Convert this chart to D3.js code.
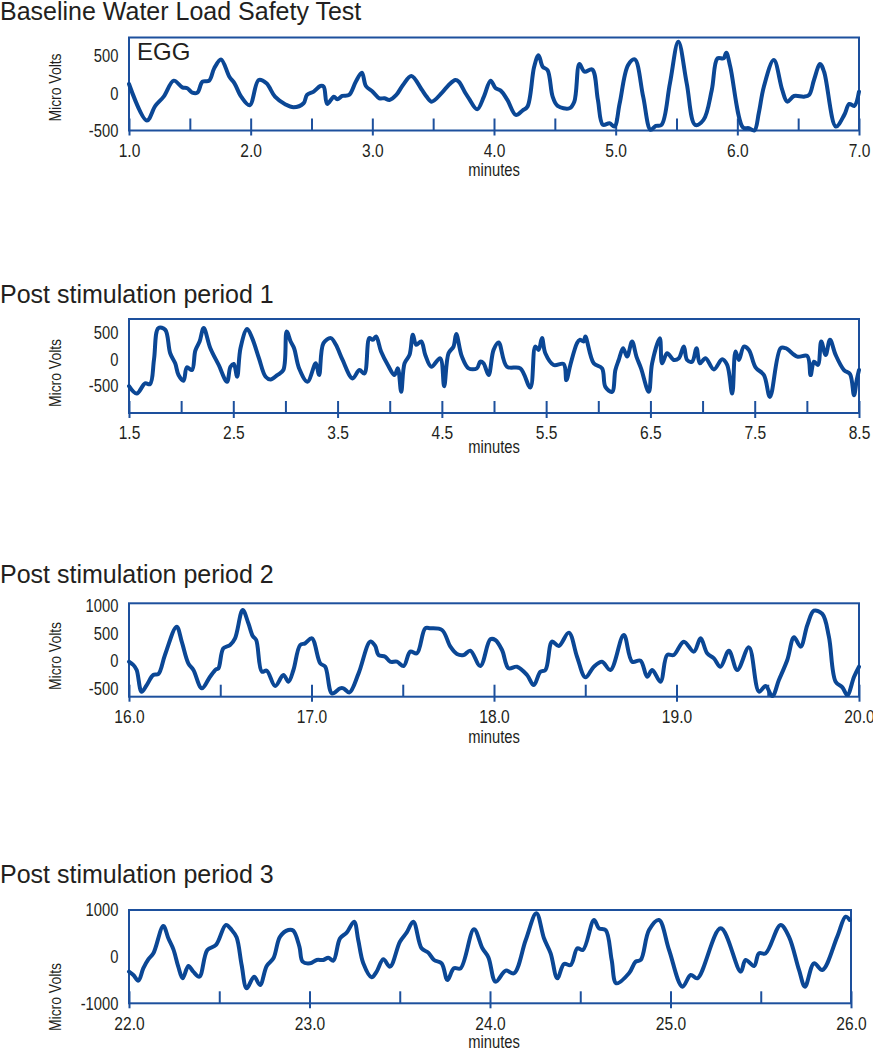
<!DOCTYPE html>
<html>
<head>
<meta charset="utf-8">
<script src="https://cdn.jsdelivr.net/npm/d3@7"></script>
<style>
  body { margin: 0; background: #fff; }
  svg { display: block; }
  text { font-family: "Liberation Sans", Arial, sans-serif; }
</style>
</head>
<body>
<svg id="chart" width="873" height="1050"></svg>
<script>
// titles of the four recordings
const titles = [
  "Baseline Water Load Safety Test",
  "Post stimulation period 1",
  "Post stimulation period 2",
  "Post stimulation period 3"
];

// EGG traces, [minutes, micro volts]
const baselineEgg = [
  [1.0,125],[1.147,-366],[1.216,-170],[1.285,-45],[1.368,170],[1.438,80],[1.479,67],[1.52,9],[1.562,9],
  [1.604,156],[1.659,170],[1.70,335],[1.756,455],[1.825,223],[1.867,134],[1.922,-45],[1.992,-160],[2.066,179],
  [2.13,134],[2.2,-45],[2.283,-147],[2.352,-188],[2.435,-134],[2.463,-22],[2.518,22],[2.573,98],[2.6,89],
  [2.629,-143],[2.684,-45],[2.712,-80],[2.753,-36],[2.809,-22],[2.864,156],[2.914,277],[2.947,98],[3.003,22],
  [3.058,-67],[3.1,-67],[3.141,-89],[3.197,-22],[3.252,112],[3.321,232],[3.404,54],[3.446,-45],[3.488,-112],
  [3.573,9],[3.628,112],[3.683,179],[3.711,156],[3.766,0],[3.793,-67],[3.862,-214],[3.917,-45],[3.972,170],
  [4.014,67],[4.055,36],[4.11,-89],[4.179,-290],[4.234,-232],[4.275,-179],[4.33,357],[4.366,513],[4.4,357],
  [4.44,312],[4.482,-45],[4.523,-170],[4.62,-201],[4.66,-112],[4.702,393],[4.744,290],[4.807,321],[4.854,-89],
  [4.895,-424],[4.95,-402],[4.99,-446],[5.033,-134],[5.102,379],[5.157,455],[5.226,-45],[5.287,-491],[5.33,-438],
  [5.377,-424],[5.446,134],[5.515,692],[5.584,134],[5.653,-424],[5.722,-357],[5.79,45],[5.837,469],[5.887,469],
  [5.909,545],[5.942,357],[6.047,-460],[6.094,-469],[6.14,-500],[6.176,-268],[6.218,89],[6.3,446],[6.369,45],
  [6.41,-112],[6.466,-36],[6.548,-45],[6.59,-22],[6.63,179],[6.68,393],[6.713,290],[6.81,-446],[6.879,-290],
  [6.92,-143],[6.961,-170],[7.0,22]
];

const post1Egg = [
  [1.5,-500],[1.574,-638],[1.654,-450],[1.702,-462],[1.74,0],[1.782,581],[1.847,550],[1.895,112],[1.943,-75],
  [1.975,-294],[2.023,-400],[2.055,-150],[2.104,-200],[2.136,162],[2.177,331],[2.216,581],[2.28,206],[2.36,-106],
  [2.44,-419],[2.473,-138],[2.505,-88],[2.537,-325],[2.569,206],[2.633,562],[2.681,394],[2.746,19],[2.81,-325],
  [2.858,-375],[2.922,-294],[2.98,-200],[3.012,519],[3.05,331],[3.083,206],[3.131,-169],[3.211,-419],[3.291,-75],
  [3.323,-294],[3.365,300],[3.436,394],[3.484,269],[3.548,-13],[3.644,-356],[3.709,-200],[3.757,-263],[3.805,394],
  [3.837,362],[3.869,425],[3.917,144],[3.982,-106],[4.046,-294],[4.078,-169],[4.11,-606],[4.142,-75],[4.19,81],
  [4.222,456],[4.254,269],[4.302,331],[4.341,81],[4.399,-138],[4.484,19],[4.522,-500],[4.564,112],[4.612,237],
  [4.638,469],[4.692,50],[4.756,-169],[4.836,-169],[4.868,-44],[4.9,-75],[4.948,-294],[4.996,175],[5.044,312],
  [5.124,-138],[5.252,-169],[5.348,-525],[5.396,237],[5.428,175],[5.46,394],[5.492,112],[5.572,-106],[5.668,-88],
  [5.694,-388],[5.732,-106],[5.796,300],[5.822,362],[5.86,331],[5.876,425],[5.956,-75],[6.036,-169],[6.068,-513],
  [6.132,-606],[6.164,-200],[6.196,-13],[6.238,206],[6.276,50],[6.324,331],[6.366,50],[6.41,-169],[6.484,-606],
  [6.516,-75],[6.59,394],[6.612,-75],[6.66,112],[6.724,-13],[6.772,19],[6.82,237],[6.852,-13],[6.9,-44],
  [6.942,206],[6.974,-75],[7.028,19],[7.108,-188],[7.188,0],[7.236,-106],[7.284,-638],[7.316,144],[7.348,-13],
  [7.396,237],[7.444,175],[7.508,-150],[7.588,-294],[7.646,-700],[7.748,206],[7.796,206],[7.908,50],[8.004,62],
  [8.036,-294],[8.068,-44],[8.106,-106],[8.138,331],[8.18,81],[8.222,362],[8.276,81],[8.356,-200],[8.414,-275],
  [8.452,-669],[8.478,-388],[8.5,-200]
];

const post2Egg = [
  [16.0,-13],[16.024,-73],[16.042,-164],[16.069,-559],[16.097,-438],[16.133,-255],[16.161,-237],[16.197,109],
  [16.261,625],[16.289,352],[16.325,-43],[16.353,-164],[16.399,-498],[16.444,-286],[16.477,-152],[16.49,-134],
  [16.517,230],[16.554,291],[16.581,412],[16.623,928],[16.654,686],[16.678,455],[16.697,382],[16.728,-195],
  [16.755,-177],[16.801,-456],[16.846,-255],[16.874,-377],[16.901,-164],[16.938,291],[16.965,321],[17.002,412],
  [17.048,-43],[17.075,-104],[17.112,-589],[17.157,-498],[17.175,-498],[17.208,-571],[17.258,-225],[17.322,352],
  [17.349,273],[17.367,109],[17.404,78],[17.431,-13],[17.468,-13],[17.505,-91],[17.541,170],[17.578,140],
  [17.623,595],[17.651,595],[17.715,564],[17.761,261],[17.797,127],[17.834,109],[17.87,188],[17.925,-91],
  [17.98,394],[18.007,382],[18.044,200],[18.08,-134],[18.126,-104],[18.181,-255],[18.218,-438],[18.254,-195],
  [18.282,-164],[18.318,352],[18.355,273],[18.41,516],[18.455,78],[18.501,-298],[18.547,-104],[18.592,-13],
  [18.638,-164],[18.711,473],[18.757,-13],[18.803,6],[18.839,-286],[18.867,-164],[18.912,-377],[18.949,109],
  [18.985,109],[19.04,352],[19.095,170],[19.132,412],[19.168,140],[19.205,48],[19.241,-104],[19.287,188],
  [19.333,-164],[19.397,248],[19.452,-559],[19.488,-456],[19.525,-638],[19.561,-347],[19.607,18],[19.644,431],
  [19.68,261],[19.717,655],[19.753,916],[19.799,856],[19.835,443],[19.872,-377],[19.909,-480],[19.936,-620],
  [19.973,-286],[20.0,-104]
];

const post3Egg = [
  [22.0,-321],[22.024,-393],[22.052,-514],[22.079,-250],[22.107,-57],[22.135,71],[22.19,657],[22.218,393],
  [22.246,157],[22.273,-214],[22.297,-464],[22.329,-200],[22.356,-321],[22.39,-429],[22.434,143],[22.482,250],
  [22.537,679],[22.569,571],[22.596,414],[22.624,-179],[22.652,-679],[22.693,-429],[22.726,-607],[22.763,-200],
  [22.8,-36],[22.837,429],[22.883,571],[22.91,557],[22.944,214],[22.962,-107],[23.003,-143],[23.04,-71],
  [23.077,-71],[23.104,-21],[23.132,-86],[23.169,393],[23.206,514],[23.247,750],[23.27,357],[23.298,-143],
  [23.344,-443],[23.372,-321],[23.409,-57],[23.446,-214],[23.501,321],[23.538,514],[23.575,750],[23.621,179],
  [23.658,86],[23.69,-71],[23.732,-143],[23.764,-500],[23.8,-250],[23.837,-250],[23.911,586],[23.958,179],
  [23.991,-14],[24.031,-536],[24.087,-300],[24.133,-357],[24.198,357],[24.257,929],[24.299,393],[24.336,71],
  [24.373,-464],[24.41,-157],[24.447,-179],[24.484,179],[24.515,143],[24.576,786],[24.604,607],[24.641,571],
  [24.674,-71],[24.7,-571],[24.77,-357],[24.807,-107],[24.835,-71],[24.881,571],[24.936,786],[24.992,143],
  [25.066,-643],[25.112,-393],[25.149,-464],[25.278,607],[25.389,-321],[25.416,-71],[25.463,-200],[25.49,71],
  [25.527,71],[25.61,679],[25.656,429],[25.712,-286],[25.745,-643],[25.795,-143],[25.841,-286],[25.924,429],
  [25.97,857],[25.993,786]
];

// tick labels
const xLabels = [
  [1, 2, 3, 4, 5, 6, 7],
  [1.5, 2.5, 3.5, 4.5, 5.5, 6.5, 7.5, 8.5],
  [16, 17, 18, 19, 20],
  [22, 23, 24, 25, 26]
];
const yLabels = [
  [-500, 0, 500],
  [-500, 0, 500],
  [-500, 0, 500, 1000],
  [-1000, 0, 1000]
];

const series = [baselineEgg, post1Egg, post2Egg, post3Egg];

// layout of each panel (pixels)
const layout = [
  { top: 37.5, bottom: 130.5, right: 859, titleY: 20, ylabY: 87.5, minY: 176, yDom: [-500, 750] },
  { top: 319, bottom: 413, right: 859, titleY: 302.5, ylabY: 373, minY: 453, yDom: [-1000, 750] },
  { top: 603.3, bottom: 696.7, right: 859, titleY: 582.7, ylabY: 656, minY: 743, yDom: [-650, 1050] },
  { top: 910, bottom: 1003.3, right: 851, titleY: 883.3, ylabY: 997, minY: 1048, yDom: [-1000, 1000] }
];
const left = 129;
const frameColor = "#1d509d";
const lineColor = "#0b4795";
const textColor = "#231f20";
const narrow = "scale(0.82,1)"; // the original uses a condensed face

const svg = d3.select("#chart");

series.forEach((data, i) => {
  const L = layout[i];
  const labs = xLabels[i];
  const x = d3.scaleLinear().domain([labs[0], labs[labs.length - 1]]).range([left, L.right]);
  const y = d3.scaleLinear().domain(L.yDom).range([L.bottom, L.top]);

  // title
  svg.append("text")
    .attr("x", 0).attr("y", L.titleY)
    .attr("font-size", 25)
    .attr("fill", textColor)
    .text(titles[i]);

  // half-minute ticks, labelled every minute
  const halves = d3.range(labs[0], labs[labs.length - 1] + 0.01, 0.5);
  const isMajor = v => labs.some(l => Math.abs(l - v) < 1e-6);
  const xAxis = d3.axisBottom(x)
    .tickValues(halves)
    .tickSizeInner(-12)
    .tickSizeOuter(0)
    .tickPadding(13)
    .tickFormat(v => isMajor(v) ? v.toFixed(1) : "");
  const gx = svg.append("g")
    .attr("transform", `translate(0,${L.bottom})`)
    .call(xAxis);
  gx.select(".domain").remove();
  gx.attr("font-family", null).attr("font-size", null);
  gx.selectAll(".tick line")
    .attr("stroke", frameColor)
    .attr("stroke-width", 2)
    .attr("y1", v => isMajor(v) ? 5 : 0);
  gx.selectAll(".tick text")
    .attr("transform", narrow)
    .attr("font-size", 19)
    .attr("fill", textColor);

  // y labels (plain hyphen, as printed)
  const yAxis = d3.axisLeft(y).tickValues(yLabels[i]).tickSize(0).tickPadding(13).tickFormat(v => String(v));
  const gy = svg.append("g").attr("transform", `translate(${left},0)`).call(yAxis);
  gy.select(".domain").remove();
  gy.attr("font-family", null).attr("font-size", null);
  gy.selectAll(".tick text")
    .attr("transform", narrow)
    .attr("font-size", 18)
    .attr("fill", textColor);

  // frame
  svg.append("rect")
    .attr("x", left).attr("y", L.top)
    .attr("width", L.right - left).attr("height", L.bottom - L.top)
    .attr("fill", "none")
    .attr("stroke", frameColor)
    .attr("stroke-width", 2);

  // trace
  const line = d3.line()
    .x(d => x(d[0]))
    .y(d => y(d[1]))
    .curve(d3.curveCatmullRom.alpha(0.5));
  svg.append("path")
    .datum(data)
    .attr("d", line)
    .attr("fill", "none")
    .attr("stroke", lineColor)
    .attr("stroke-width", 4)
    .attr("stroke-linejoin", "round")
    .attr("stroke-linecap", "round");

  // axis titles
  svg.append("text")
    .attr("transform", `translate(61,${L.ylabY}) rotate(-90) ${narrow}`)
    .attr("text-anchor", "middle")
    .attr("font-size", 17)
    .attr("fill", textColor)
    .text("Micro Volts");
  svg.append("text")
    .attr("transform", `translate(494,${L.minY}) ${narrow}`)
    .attr("text-anchor", "middle")
    .attr("font-size", 18)
    .attr("fill", textColor)
    .text("minutes");

  if (i === 0) {
    svg.append("text")
      .attr("x", 137).attr("y", 60)
      .attr("font-size", 24)
      .attr("fill", textColor)
      .text("EGG");
  }
});
</script>
</body>
</html>
